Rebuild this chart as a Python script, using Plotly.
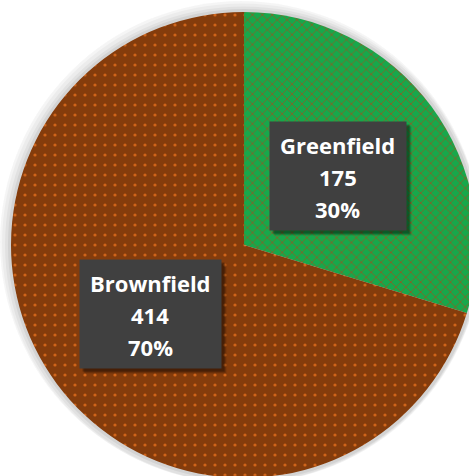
import math
import plotly.graph_objects as go

labels = ["Greenfield", "Brownfield"]
values = [175, 414]
slice_colors = ["#17A84B", "#843C0C"]
pattern_fg = ["#7A6A2A", "#D0651A"]
pattern_shapes = ["x", "."]

W, H = 482, 484
cx_px, cy_px, r_px = 244, 245, 233


def dom(grow=0, shift=0):
    x0 = (cx_px - r_px - grow + shift) / W
    x1 = (cx_px + r_px + grow + shift) / W
    y0 = 1 - (cy_px + r_px + grow + shift) / H
    y1 = 1 - (cy_px - r_px - grow + shift) / H
    return dict(x=[max(0, x0), min(1, x1)], y=[max(0, y0), min(1, y1)])


fig = go.Figure()

# soft shadow behind pie
for grow, op in [(16, 0.015), (12, 0.025), (9, 0.035), (6, 0.045), (3, 0.06)]:
    fig.add_trace(go.Pie(values=[1], labels=["s"], marker=dict(colors=["#000000"]),
                         opacity=op, textinfo="none", hoverinfo="skip", sort=False,
                         showlegend=False, domain=dom(grow)))

fig.add_trace(go.Pie(
    labels=labels, values=values, sort=False, direction="clockwise", rotation=0,
    marker=dict(colors=slice_colors,
                pattern=dict(shape=pattern_shapes, fgcolor=pattern_fg, bgcolor=slice_colors,
                             size=[7, 10], solidity=[0.25, 0.08], fillmode="replace"),
                line=dict(width=0)),
    textinfo="none", hoverinfo="label+value+percent", showlegend=False,
    domain=dom(),
))

total = sum(values)
start = 90.0
for lab, v in zip(labels, values):
    span = 360.0 * v / total
    mid = math.radians(start - span / 2)
    start -= span
    px = cx_px + 0.5 * r_px * math.cos(mid)
    py = cy_px - 0.5 * r_px * math.sin(mid)
    pct = round(100 * v / total)
    lines = [lab, str(v), f"{pct}%"]
    bw = 134 if lab == "Greenfield" else 139
    for s, a in [(5, 0.12), (4, 0.18), (3, 0.25)]:
        fig.add_annotation(x=(px + s) / W, y=1 - (py + s) / H, xref="paper", yref="paper",
                           xanchor="center", yanchor="middle",
                           text=" ", showarrow=False, width=bw, height=106,
                           bgcolor=f"rgba(0,0,0,{a})")
    fig.add_annotation(x=px / W, y=1 - py / H, xref="paper", yref="paper",
                       xanchor="center", yanchor="middle",
                       text=" ", showarrow=False, width=bw, height=106,
                       bgcolor="#404040")
    for i, ln in enumerate(lines):
        fig.add_annotation(x=px / W, y=1 - (py + (i - 1) * 32 + 1) / H,
                           xref="paper", yref="paper",
                           xanchor="center", yanchor="middle",
                           text=f"<b>{ln}</b>", showarrow=False,
                           font=dict(family="Open Sans", size=22, color="white"))

fig.update_layout(width=W, height=H, margin=dict(l=0, r=0, t=0, b=0),
                  paper_bgcolor="white", plot_bgcolor="white")
fig.write_html("out.html", config={"displayModeBar": False},
               post_script="document.body.style.margin='0';document.body.style.overflow='hidden';"
                           "document.documentElement.style.overflow='hidden';")
